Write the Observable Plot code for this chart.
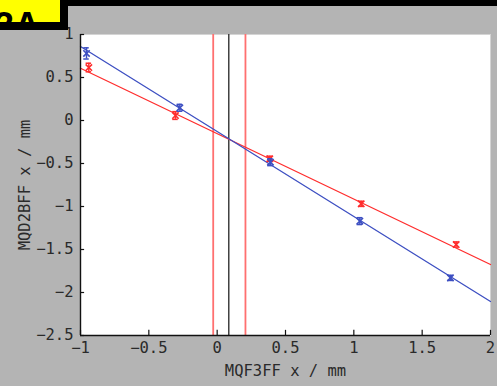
<!DOCTYPE html>
<html>
<head>
<meta charset="utf-8">
<script src="https://cdn.jsdelivr.net/npm/d3@7"></script>
<script src="https://cdn.jsdelivr.net/npm/@observablehq/plot@0.6"></script>
<style>
  html, body { margin: 0; padding: 0; background: #b4b4b4; }
  #wrap { position: relative; width: 497px; height: 386px; overflow: hidden; background: #b4b4b4; }
  #wrap svg { position: absolute; left: 0; top: 0; }
  .topbar { position: absolute; left: 0; top: 0; width: 497px; height: 6px; background: #000; }
  .tagbox { position: absolute; left: 0; top: 0; width: 68px; height: 30px; background: #000; }
  .tag { position: absolute; left: 0; top: 0; width: 60px; height: 22px; background: #ffff00; overflow: hidden; }
  .tag span { position: absolute; left: -6px; bottom: 14px; font: bold 36px "Liberation Sans", Arial, sans-serif; color: #000; line-height: 1; transform: translateY(100%); }
</style>
</head>
<body>
<div id="wrap">
  <div class="topbar"></div>
  <div class="tagbox"></div>
  <div class="tag"><span>3A</span></div>
</div>
<script>
// Measured orbit positions at the two monitors, with errors
const blueX = [-0.956, -0.273, 0.39, 1.044, 1.707];
const blueY = [0.78, 0.148, -0.485, -1.17, -1.83];
const blueErr = [0.065, 0.04, 0.04, 0.04, 0.03];

const redX = [-0.939, -0.305, 0.385, 1.054, 1.749];
const redY = [0.616, 0.058, -0.445, -0.969, -1.442];
const redErr = [0.05, 0.045, 0.03, 0.03, 0.03];

// Straight-line fits, given by their end points across the range
const blueFitX = [-1, 2];
const blueFitY = [0.86, -2.105];
const redFitX = [-1, 2];
const redFitY = [0.608, -1.674];

// Crossing position (black) and its error band (red)
const crossX = 0.085;
const bandX = [-0.029, 0.207];

const xTicks = [-1, -0.5, 0, 0.5, 1, 1.5, 2];
const yTicks = [1, 0.5, 0, -0.5, -1, -1.5, -2, -2.5];

const BLUE = "#3d4fc2";
const RED = "#ff2d2d";

const pts = (xs, ys, es) => xs.map((x, i) => ({x, y: ys[i], e: es[i]}));
const blue = pts(blueX, blueY, blueErr);
const red = pts(redX, redY, redErr);
const fit = (xs, ys) => xs.map((x, i) => ({x, y: ys[i]}));

const fmt = d => d3.format("")(d).replace("-", "\u2212");

function errorMarks(data, color) {
  return [
    Plot.ruleX(data, {x: "x", y1: d => d.y - d.e, y2: d => d.y + d.e, stroke: color, strokeWidth: 1.5}),
    Plot.ruleY(data, {y: d => d.y - d.e, x1: d => d.x - 0.02, x2: d => d.x + 0.02, stroke: color, strokeWidth: 1.5}),
    Plot.ruleY(data, {y: d => d.y + d.e, x1: d => d.x - 0.02, x2: d => d.x + 0.02, stroke: color, strokeWidth: 1.5}),
    Plot.dot(data, {x: "x", y: "y", symbol: "times", r: 3, stroke: color, strokeWidth: 1.6})
  ];
}

const chart = Plot.plot({
  width: 497,
  height: 386,
  marginLeft: 80,
  marginRight: 7,
  marginTop: 34,
  marginBottom: 51,
  style: {background: "transparent", fontFamily: "'DejaVu Sans Mono', monospace", fontSize: "15.5px", color: "#2a2a2a", overflow: "visible"},
  x: {domain: [-1, 2]},
  y: {domain: [-2.5, 1]},
  marks: [
    Plot.frame({fill: "white", stroke: "#d4d4d4"}),
    Plot.ruleX(bandX, {stroke: "#ff7070", strokeWidth: 1.8}),
    Plot.ruleX([crossX], {stroke: "#333", strokeWidth: 1.4}),
    Plot.line(fit(redFitX, redFitY), {x: "x", y: "y", stroke: RED, strokeWidth: 1.3}),
    Plot.line(fit(blueFitX, blueFitY), {x: "x", y: "y", stroke: BLUE, strokeWidth: 1.3}),
    ...errorMarks(red, RED),
    ...errorMarks(blue, BLUE),
    Plot.ruleX([-1], {stroke: "#111", strokeWidth: 1.4}),
    Plot.ruleY([-2.5], {stroke: "#111", strokeWidth: 1.4}),
    Plot.ruleX(xTicks, {x: d => d, y1: -2.5, y2: -2.5 + 0.06, stroke: "#111", strokeWidth: 1.2}),
    Plot.ruleY(yTicks, {y: d => d, x1: -1, x2: -1 + 0.03, stroke: "#111", strokeWidth: 1.2}),
    Plot.axisX({ticks: xTicks, tickSize: 0, tickPadding: 6, tickFormat: fmt,
      label: "MQF3FF x / mm", labelAnchor: "center", labelArrow: "none", labelOffset: 40}),
    Plot.axisY({ticks: yTicks, tickSize: 0, tickPadding: 7, tickFormat: fmt,
      label: "MQD2BFF x / mm", labelAnchor: "center", labelArrow: "none", labelOffset: 62})
  ]
});

document.getElementById("wrap").prepend(chart);
</script>
</body>
</html>
